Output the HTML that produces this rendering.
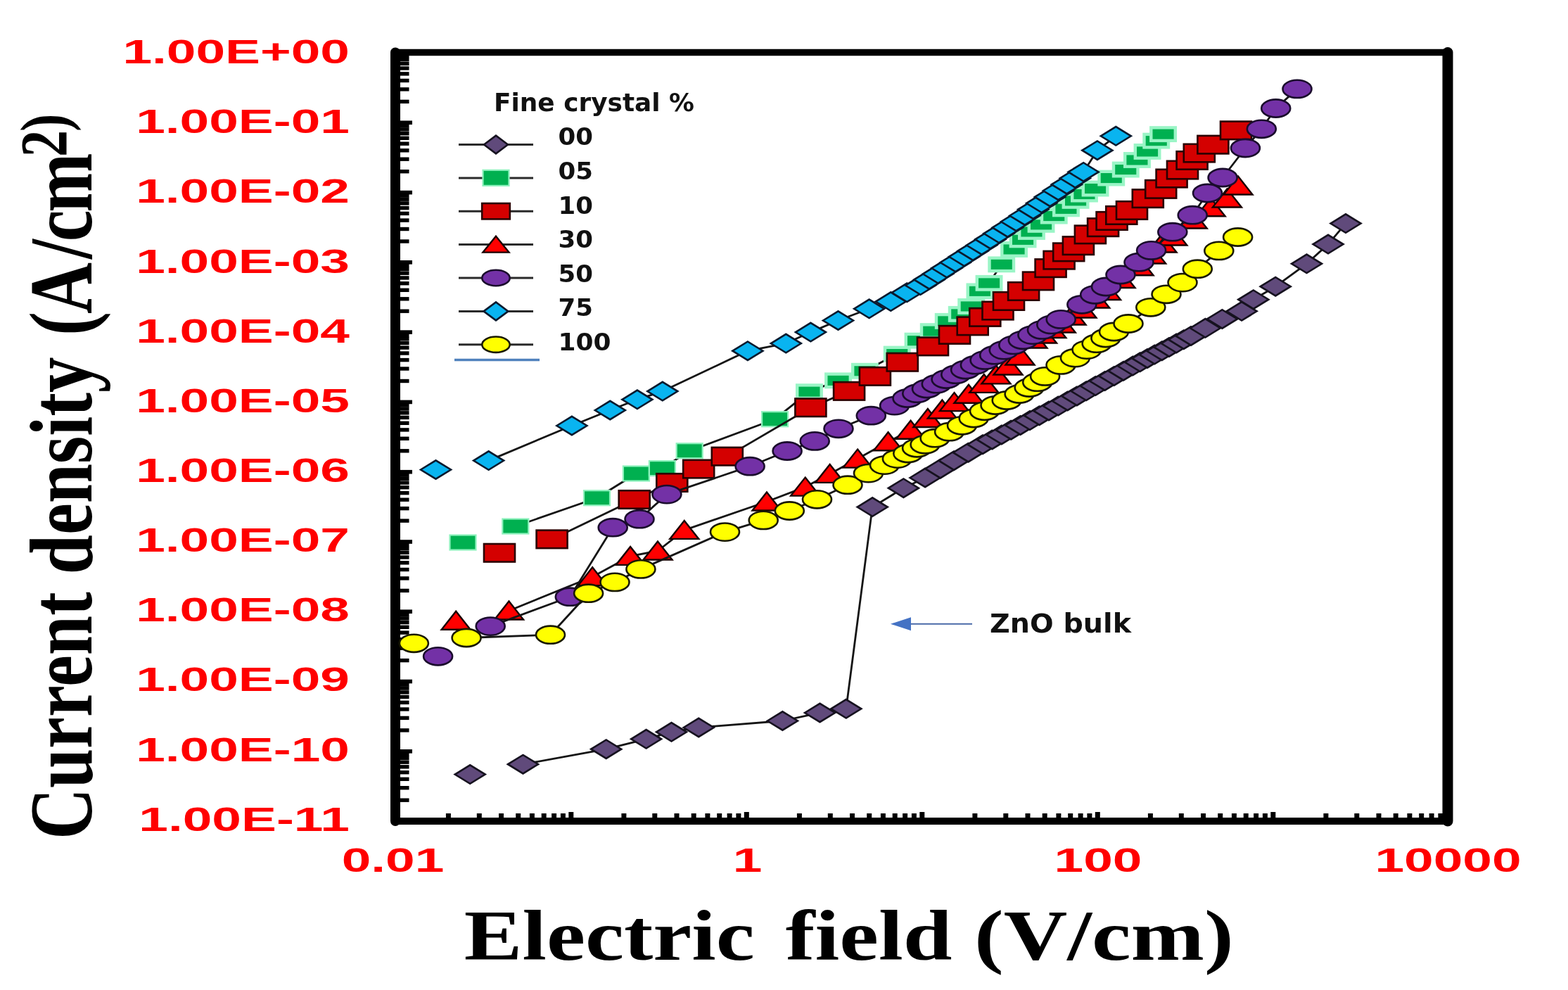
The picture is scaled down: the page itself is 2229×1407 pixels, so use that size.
<!DOCTYPE html>
<html><head><meta charset="utf-8"><title>Current density vs Electric field</title>
<style>html,body{margin:0;padding:0;background:#fff;overflow:hidden}svg{display:block}</style>
</head><body>
<svg width="2229" height="1407" viewBox="0 0 2229 1407">
<style>
.rl{font-family:"Liberation Sans",Arial,sans-serif;font-weight:bold;font-size:48px;fill:#ff0000}
.ttl{font-family:"Liberation Serif","Times New Roman",serif;font-weight:bold;font-size:101px;fill:#000}
.ttl2{font-family:"Liberation Serif","Times New Roman",serif;font-weight:bold;font-size:101px;fill:#000}
.lg{font-family:"DejaVu Sans","Liberation Sans",sans-serif;font-weight:bold;fill:#111}
</style>
<rect width="2229" height="1407" fill="#fff"/>
<g fill="#000"><rect x="562" y="171.5" width="24" height="5.6"/><rect x="562" y="141.7" width="19.5" height="5.4"/><rect x="562" y="124.2" width="19.5" height="5.4"/><rect x="562" y="111.8" width="19.5" height="5.4"/><rect x="562" y="102.2" width="19.5" height="5.4"/><rect x="562" y="94.3" width="19.5" height="5.4"/><rect x="562" y="87.7" width="19.5" height="5.4"/><rect x="562" y="81.9" width="19.5" height="5.4"/><rect x="562" y="76.8" width="19.5" height="5.4"/><rect x="562" y="270.8" width="24" height="5.6"/><rect x="562" y="241.0" width="19.5" height="5.4"/><rect x="562" y="223.5" width="19.5" height="5.4"/><rect x="562" y="211.1" width="19.5" height="5.4"/><rect x="562" y="201.5" width="19.5" height="5.4"/><rect x="562" y="193.6" width="19.5" height="5.4"/><rect x="562" y="187.0" width="19.5" height="5.4"/><rect x="562" y="181.2" width="19.5" height="5.4"/><rect x="562" y="176.1" width="19.5" height="5.4"/><rect x="562" y="370.0" width="24" height="5.6"/><rect x="562" y="340.3" width="19.5" height="5.4"/><rect x="562" y="322.8" width="19.5" height="5.4"/><rect x="562" y="310.4" width="19.5" height="5.4"/><rect x="562" y="300.7" width="19.5" height="5.4"/><rect x="562" y="292.9" width="19.5" height="5.4"/><rect x="562" y="286.2" width="19.5" height="5.4"/><rect x="562" y="280.5" width="19.5" height="5.4"/><rect x="562" y="275.4" width="19.5" height="5.4"/><rect x="562" y="469.3" width="24" height="5.6"/><rect x="562" y="439.5" width="19.5" height="5.4"/><rect x="562" y="422.1" width="19.5" height="5.4"/><rect x="562" y="409.6" width="19.5" height="5.4"/><rect x="562" y="400.0" width="19.5" height="5.4"/><rect x="562" y="392.2" width="19.5" height="5.4"/><rect x="562" y="385.5" width="19.5" height="5.4"/><rect x="562" y="379.8" width="19.5" height="5.4"/><rect x="562" y="374.7" width="19.5" height="5.4"/><rect x="562" y="568.6" width="24" height="5.6"/><rect x="562" y="538.8" width="19.5" height="5.4"/><rect x="562" y="521.3" width="19.5" height="5.4"/><rect x="562" y="508.9" width="19.5" height="5.4"/><rect x="562" y="499.3" width="19.5" height="5.4"/><rect x="562" y="491.4" width="19.5" height="5.4"/><rect x="562" y="484.8" width="19.5" height="5.4"/><rect x="562" y="479.0" width="19.5" height="5.4"/><rect x="562" y="474.0" width="19.5" height="5.4"/><rect x="562" y="667.9" width="24" height="5.6"/><rect x="562" y="638.1" width="19.5" height="5.4"/><rect x="562" y="620.6" width="19.5" height="5.4"/><rect x="562" y="608.2" width="19.5" height="5.4"/><rect x="562" y="598.6" width="19.5" height="5.4"/><rect x="562" y="590.7" width="19.5" height="5.4"/><rect x="562" y="584.1" width="19.5" height="5.4"/><rect x="562" y="578.3" width="19.5" height="5.4"/><rect x="562" y="573.2" width="19.5" height="5.4"/><rect x="562" y="767.2" width="24" height="5.6"/><rect x="562" y="737.4" width="19.5" height="5.4"/><rect x="562" y="719.9" width="19.5" height="5.4"/><rect x="562" y="707.5" width="19.5" height="5.4"/><rect x="562" y="697.9" width="19.5" height="5.4"/><rect x="562" y="690.0" width="19.5" height="5.4"/><rect x="562" y="683.4" width="19.5" height="5.4"/><rect x="562" y="677.6" width="19.5" height="5.4"/><rect x="562" y="672.5" width="19.5" height="5.4"/><rect x="562" y="866.4" width="24" height="5.6"/><rect x="562" y="836.7" width="19.5" height="5.4"/><rect x="562" y="819.2" width="19.5" height="5.4"/><rect x="562" y="806.8" width="19.5" height="5.4"/><rect x="562" y="797.1" width="19.5" height="5.4"/><rect x="562" y="789.3" width="19.5" height="5.4"/><rect x="562" y="782.6" width="19.5" height="5.4"/><rect x="562" y="776.9" width="19.5" height="5.4"/><rect x="562" y="771.8" width="19.5" height="5.4"/><rect x="562" y="965.7" width="24" height="5.6"/><rect x="562" y="935.9" width="19.5" height="5.4"/><rect x="562" y="918.5" width="19.5" height="5.4"/><rect x="562" y="906.0" width="19.5" height="5.4"/><rect x="562" y="896.4" width="19.5" height="5.4"/><rect x="562" y="888.6" width="19.5" height="5.4"/><rect x="562" y="881.9" width="19.5" height="5.4"/><rect x="562" y="876.2" width="19.5" height="5.4"/><rect x="562" y="871.1" width="19.5" height="5.4"/><rect x="562" y="1065.0" width="24" height="5.6"/><rect x="562" y="1035.2" width="19.5" height="5.4"/><rect x="562" y="1017.7" width="19.5" height="5.4"/><rect x="562" y="1005.3" width="19.5" height="5.4"/><rect x="562" y="995.7" width="19.5" height="5.4"/><rect x="562" y="987.8" width="19.5" height="5.4"/><rect x="562" y="981.2" width="19.5" height="5.4"/><rect x="562" y="975.4" width="19.5" height="5.4"/><rect x="562" y="970.4" width="19.5" height="5.4"/><rect x="562" y="1164.3" width="24" height="5.6"/><rect x="562" y="1134.5" width="19.5" height="5.4"/><rect x="562" y="1117.0" width="19.5" height="5.4"/><rect x="562" y="1104.6" width="19.5" height="5.4"/><rect x="562" y="1095.0" width="19.5" height="5.4"/><rect x="562" y="1087.1" width="19.5" height="5.4"/><rect x="562" y="1080.5" width="19.5" height="5.4"/><rect x="562" y="1074.7" width="19.5" height="5.4"/><rect x="562" y="1069.6" width="19.5" height="5.4"/><rect x="633.9" y="1156" width="7" height="11"/><rect x="677.8" y="1156" width="7" height="11"/><rect x="709.0" y="1156" width="7" height="11"/><rect x="733.2" y="1156" width="7" height="11"/><rect x="752.9" y="1156" width="7" height="11"/><rect x="769.7" y="1156" width="7" height="11"/><rect x="784.1" y="1156" width="7" height="11"/><rect x="796.9" y="1156" width="7" height="11"/><rect x="808.3" y="1154" width="7" height="13"/><rect x="883.4" y="1156" width="7" height="11"/><rect x="927.3" y="1156" width="7" height="11"/><rect x="958.5" y="1156" width="7" height="11"/><rect x="982.7" y="1156" width="7" height="11"/><rect x="1002.4" y="1156" width="7" height="11"/><rect x="1019.2" y="1156" width="7" height="11"/><rect x="1033.6" y="1156" width="7" height="11"/><rect x="1046.4" y="1156" width="7" height="11"/><rect x="1057.8" y="1154" width="7" height="13"/><rect x="1132.9" y="1156" width="7" height="11"/><rect x="1176.8" y="1156" width="7" height="11"/><rect x="1208.0" y="1156" width="7" height="11"/><rect x="1232.2" y="1156" width="7" height="11"/><rect x="1251.9" y="1156" width="7" height="11"/><rect x="1268.7" y="1156" width="7" height="11"/><rect x="1283.1" y="1156" width="7" height="11"/><rect x="1295.9" y="1156" width="7" height="11"/><rect x="1307.3" y="1154" width="7" height="13"/><rect x="1382.4" y="1156" width="7" height="11"/><rect x="1426.3" y="1156" width="7" height="11"/><rect x="1457.5" y="1156" width="7" height="11"/><rect x="1481.7" y="1156" width="7" height="11"/><rect x="1501.4" y="1156" width="7" height="11"/><rect x="1518.2" y="1156" width="7" height="11"/><rect x="1532.6" y="1156" width="7" height="11"/><rect x="1545.4" y="1156" width="7" height="11"/><rect x="1556.8" y="1154" width="7" height="13"/><rect x="1631.9" y="1156" width="7" height="11"/><rect x="1675.8" y="1156" width="7" height="11"/><rect x="1707.0" y="1156" width="7" height="11"/><rect x="1731.2" y="1156" width="7" height="11"/><rect x="1750.9" y="1156" width="7" height="11"/><rect x="1767.7" y="1156" width="7" height="11"/><rect x="1782.1" y="1156" width="7" height="11"/><rect x="1794.9" y="1156" width="7" height="11"/><rect x="1806.3" y="1154" width="7" height="13"/><rect x="1881.4" y="1156" width="7" height="11"/><rect x="1925.3" y="1156" width="7" height="11"/><rect x="1956.5" y="1156" width="7" height="11"/><rect x="1980.7" y="1156" width="7" height="11"/><rect x="2000.4" y="1156" width="7" height="11"/><rect x="2017.2" y="1156" width="7" height="11"/><rect x="2031.6" y="1156" width="7" height="11"/><rect x="2044.4" y="1156" width="7" height="11"/></g><rect x="562" y="74.5" width="1496" height="1092.5" fill="none" stroke="#000" stroke-width="0" /><path d="M562,74.5 H2058" stroke="#000" stroke-width="9.5" stroke-linecap="round" fill="none"/><path d="M562,1167 H2058" stroke="#000" stroke-width="10" stroke-linecap="round" fill="none"/><path d="M562,74.5 V1167" stroke="#000" stroke-width="14" stroke-linecap="round" fill="none"/><path d="M2058,74.5 V1167" stroke="#000" stroke-width="15" stroke-linecap="round" fill="none"/><text transform="translate(497,90.0) scale(1.56,1)" text-anchor="end" class="rl">1.00E+00</text><text transform="translate(497,189.2) scale(1.56,1)" text-anchor="end" class="rl">1.00E-01</text><text transform="translate(497,288.3) scale(1.56,1)" text-anchor="end" class="rl">1.00E-02</text><text transform="translate(497,387.5) scale(1.56,1)" text-anchor="end" class="rl">1.00E-03</text><text transform="translate(497,486.6) scale(1.56,1)" text-anchor="end" class="rl">1.00E-04</text><text transform="translate(497,585.8) scale(1.56,1)" text-anchor="end" class="rl">1.00E-05</text><text transform="translate(497,684.9) scale(1.56,1)" text-anchor="end" class="rl">1.00E-06</text><text transform="translate(497,784.1) scale(1.56,1)" text-anchor="end" class="rl">1.00E-07</text><text transform="translate(497,883.2) scale(1.56,1)" text-anchor="end" class="rl">1.00E-08</text><text transform="translate(497,982.4) scale(1.56,1)" text-anchor="end" class="rl">1.00E-09</text><text transform="translate(497,1081.5) scale(1.56,1)" text-anchor="end" class="rl">1.00E-10</text><text transform="translate(497,1180.7) scale(1.56,1)" text-anchor="end" class="rl">1.00E-11</text><text transform="translate(558.5,1238.5) scale(1.56,1)" text-anchor="middle" class="rl">0.01</text><text transform="translate(1062.5,1238.5) scale(1.56,1)" text-anchor="middle" class="rl">1</text><text transform="translate(1561.0,1238.5) scale(1.56,1)" text-anchor="middle" class="rl">100</text><text transform="translate(2058.5,1238.5) scale(1.56,1)" text-anchor="middle" class="rl">10000</text><text x="659.8" y="1364" class="ttl" textLength="413" lengthAdjust="spacingAndGlyphs">Electric</text><text x="1116.8" y="1364" class="ttl" textLength="637" lengthAdjust="spacingAndGlyphs">field (V/cm)</text><text transform="translate(130,1193) scale(1.25,1) rotate(-90)" class="ttl2">Current density <tspan dx="5.7">(</tspan><tspan dx="-2.9">A</tspan><tspan dx="5">/</tspan><tspan dx="-3.3">c</tspan><tspan dx="-3.4">m</tspan><tspan dy="-28" dx="-5.3" font-size="76">2</tspan><tspan font-size="76" dx="-2.2">)</tspan></text><path d="M1292,886.8 H1382" stroke="#4a6aa8" stroke-width="2" fill="none"/><polygon points="1266,886.8 1295,877.3 1295,896.3" fill="#4472c4"/><text x="1407" y="899.3" class="lg" font-size="37" textLength="201" lengthAdjust="spacingAndGlyphs">ZnO bulk</text><path d="M743.5,1086.2 L861.7,1064.7 L918.6,1050.3 L954.5,1040.3 L993.2,1034.0 L1112.4,1024.5 L1165.5,1013.0 L1202.8,1007.3 L1240.2,720.6 L1284.4,693.7 L1315.1,679.0 L1336.8,666.2 L1356.0,654.7 L1376.5,643.2 L1397.0,631.7 L1410.4,624.9 L1423.8,618.0 L1437.2,611.2 L1450.6,604.4 L1464.0,597.6 L1477.5,590.7 L1490.9,583.9 L1504.3,577.1 L1517.6,570.0 L1530.8,562.9 L1544.1,555.8 L1557.3,548.6 L1570.6,541.5 L1583.8,534.4 L1597.1,527.2 L1610.3,520.1 L1620.6,514.8 L1631.0,509.4 L1641.3,504.1 L1651.7,498.8 L1662.0,493.4 L1672.3,488.1 L1682.7,482.7 L1693.0,477.4 L1713.4,466.3 L1737.4,453.4 L1765.1,442.3 L1781.8,425.7 L1813.2,407.2 L1857.5,374.8 L1888.0,347.1 L1913.0,317.6" fill="none" stroke="#151515" stroke-width="2.8" stroke-linejoin="round"/><g><polygon points="646.7,1100.6 668.2,1087.4 689.7,1100.6 668.2,1113.8" fill="#604a7b" stroke="#16121f" stroke-width="2.6" stroke-linejoin="miter"/><polygon points="722.0,1086.2 743.5,1073.0 765.0,1086.2 743.5,1099.4" fill="#604a7b" stroke="#16121f" stroke-width="2.6" stroke-linejoin="miter"/><polygon points="840.2,1064.7 861.7,1051.5 883.2,1064.7 861.7,1077.9" fill="#604a7b" stroke="#16121f" stroke-width="2.6" stroke-linejoin="miter"/><polygon points="897.1,1050.3 918.6,1037.1 940.1,1050.3 918.6,1063.5" fill="#604a7b" stroke="#16121f" stroke-width="2.6" stroke-linejoin="miter"/><polygon points="933.0,1040.3 954.5,1027.1 976.0,1040.3 954.5,1053.5" fill="#604a7b" stroke="#16121f" stroke-width="2.6" stroke-linejoin="miter"/><polygon points="971.7,1034.0 993.2,1020.8 1014.7,1034.0 993.2,1047.2" fill="#604a7b" stroke="#16121f" stroke-width="2.6" stroke-linejoin="miter"/><polygon points="1090.9,1024.5 1112.4,1011.3 1133.9,1024.5 1112.4,1037.7" fill="#604a7b" stroke="#16121f" stroke-width="2.6" stroke-linejoin="miter"/><polygon points="1144.0,1013.0 1165.5,999.8 1187.0,1013.0 1165.5,1026.2" fill="#604a7b" stroke="#16121f" stroke-width="2.6" stroke-linejoin="miter"/><polygon points="1181.3,1007.3 1202.8,994.1 1224.3,1007.3 1202.8,1020.5" fill="#604a7b" stroke="#16121f" stroke-width="2.6" stroke-linejoin="miter"/><polygon points="1218.7,720.6 1240.2,707.4 1261.7,720.6 1240.2,733.8" fill="#604a7b" stroke="#16121f" stroke-width="2.6" stroke-linejoin="miter"/><polygon points="1262.9,693.7 1284.4,680.5 1305.9,693.7 1284.4,706.9" fill="#604a7b" stroke="#16121f" stroke-width="2.6" stroke-linejoin="miter"/><polygon points="1293.6,679.0 1315.1,665.8 1336.6,679.0 1315.1,692.2" fill="#604a7b" stroke="#16121f" stroke-width="2.6" stroke-linejoin="miter"/><polygon points="1315.3,666.2 1336.8,653.0 1358.3,666.2 1336.8,679.4" fill="#604a7b" stroke="#16121f" stroke-width="2.6" stroke-linejoin="miter"/><polygon points="1334.5,654.7 1356.0,641.5 1377.5,654.7 1356.0,667.9" fill="#604a7b" stroke="#16121f" stroke-width="2.6" stroke-linejoin="miter"/><polygon points="1355.0,643.2 1376.5,630.0 1398.0,643.2 1376.5,656.4" fill="#604a7b" stroke="#16121f" stroke-width="2.6" stroke-linejoin="miter"/><polygon points="1375.5,631.7 1397.0,618.5 1418.5,631.7 1397.0,644.9" fill="#604a7b" stroke="#16121f" stroke-width="2.6" stroke-linejoin="miter"/><polygon points="1388.9,624.9 1410.4,611.7 1431.9,624.9 1410.4,638.1" fill="#604a7b" stroke="#16121f" stroke-width="2.6" stroke-linejoin="miter"/><polygon points="1402.3,618.0 1423.8,604.8 1445.3,618.0 1423.8,631.2" fill="#604a7b" stroke="#16121f" stroke-width="2.6" stroke-linejoin="miter"/><polygon points="1415.7,611.2 1437.2,598.0 1458.7,611.2 1437.2,624.4" fill="#604a7b" stroke="#16121f" stroke-width="2.6" stroke-linejoin="miter"/><polygon points="1429.1,604.4 1450.6,591.2 1472.1,604.4 1450.6,617.6" fill="#604a7b" stroke="#16121f" stroke-width="2.6" stroke-linejoin="miter"/><polygon points="1442.5,597.6 1464.0,584.4 1485.5,597.6 1464.0,610.8" fill="#604a7b" stroke="#16121f" stroke-width="2.6" stroke-linejoin="miter"/><polygon points="1456.0,590.7 1477.5,577.5 1499.0,590.7 1477.5,603.9" fill="#604a7b" stroke="#16121f" stroke-width="2.6" stroke-linejoin="miter"/><polygon points="1469.4,583.9 1490.9,570.7 1512.4,583.9 1490.9,597.1" fill="#604a7b" stroke="#16121f" stroke-width="2.6" stroke-linejoin="miter"/><polygon points="1482.8,577.1 1504.3,563.9 1525.8,577.1 1504.3,590.3" fill="#604a7b" stroke="#16121f" stroke-width="2.6" stroke-linejoin="miter"/><polygon points="1496.1,570.0 1517.6,556.8 1539.1,570.0 1517.6,583.2" fill="#604a7b" stroke="#16121f" stroke-width="2.6" stroke-linejoin="miter"/><polygon points="1509.3,562.9 1530.8,549.7 1552.3,562.9 1530.8,576.1" fill="#604a7b" stroke="#16121f" stroke-width="2.6" stroke-linejoin="miter"/><polygon points="1522.6,555.8 1544.1,542.6 1565.6,555.8 1544.1,569.0" fill="#604a7b" stroke="#16121f" stroke-width="2.6" stroke-linejoin="miter"/><polygon points="1535.8,548.6 1557.3,535.4 1578.8,548.6 1557.3,561.8" fill="#604a7b" stroke="#16121f" stroke-width="2.6" stroke-linejoin="miter"/><polygon points="1549.1,541.5 1570.6,528.3 1592.1,541.5 1570.6,554.7" fill="#604a7b" stroke="#16121f" stroke-width="2.6" stroke-linejoin="miter"/><polygon points="1562.3,534.4 1583.8,521.2 1605.3,534.4 1583.8,547.6" fill="#604a7b" stroke="#16121f" stroke-width="2.6" stroke-linejoin="miter"/><polygon points="1575.6,527.2 1597.1,514.0 1618.6,527.2 1597.1,540.4" fill="#604a7b" stroke="#16121f" stroke-width="2.6" stroke-linejoin="miter"/><polygon points="1588.8,520.1 1610.3,506.9 1631.8,520.1 1610.3,533.3" fill="#604a7b" stroke="#16121f" stroke-width="2.6" stroke-linejoin="miter"/><polygon points="1599.1,514.8 1620.6,501.6 1642.1,514.8 1620.6,528.0" fill="#604a7b" stroke="#16121f" stroke-width="2.6" stroke-linejoin="miter"/><polygon points="1609.5,509.4 1631.0,496.2 1652.5,509.4 1631.0,522.6" fill="#604a7b" stroke="#16121f" stroke-width="2.6" stroke-linejoin="miter"/><polygon points="1619.8,504.1 1641.3,490.9 1662.8,504.1 1641.3,517.3" fill="#604a7b" stroke="#16121f" stroke-width="2.6" stroke-linejoin="miter"/><polygon points="1630.2,498.8 1651.7,485.6 1673.2,498.8 1651.7,511.9" fill="#604a7b" stroke="#16121f" stroke-width="2.6" stroke-linejoin="miter"/><polygon points="1640.5,493.4 1662.0,480.2 1683.5,493.4 1662.0,506.6" fill="#604a7b" stroke="#16121f" stroke-width="2.6" stroke-linejoin="miter"/><polygon points="1650.8,488.1 1672.3,474.9 1693.8,488.1 1672.3,501.3" fill="#604a7b" stroke="#16121f" stroke-width="2.6" stroke-linejoin="miter"/><polygon points="1661.2,482.7 1682.7,469.5 1704.2,482.7 1682.7,495.9" fill="#604a7b" stroke="#16121f" stroke-width="2.6" stroke-linejoin="miter"/><polygon points="1671.5,477.4 1693.0,464.2 1714.5,477.4 1693.0,490.6" fill="#604a7b" stroke="#16121f" stroke-width="2.6" stroke-linejoin="miter"/><polygon points="1691.9,466.3 1713.4,453.1 1734.9,466.3 1713.4,479.5" fill="#604a7b" stroke="#16121f" stroke-width="2.6" stroke-linejoin="miter"/><polygon points="1715.9,453.4 1737.4,440.2 1758.9,453.4 1737.4,466.6" fill="#604a7b" stroke="#16121f" stroke-width="2.6" stroke-linejoin="miter"/><polygon points="1743.6,442.3 1765.1,429.1 1786.6,442.3 1765.1,455.5" fill="#604a7b" stroke="#16121f" stroke-width="2.6" stroke-linejoin="miter"/><polygon points="1760.3,425.7 1781.8,412.5 1803.3,425.7 1781.8,438.9" fill="#604a7b" stroke="#16121f" stroke-width="2.6" stroke-linejoin="miter"/><polygon points="1791.7,407.2 1813.2,394.0 1834.7,407.2 1813.2,420.4" fill="#604a7b" stroke="#16121f" stroke-width="2.6" stroke-linejoin="miter"/><polygon points="1836.0,374.8 1857.5,361.6 1879.0,374.8 1857.5,388.0" fill="#604a7b" stroke="#16121f" stroke-width="2.6" stroke-linejoin="miter"/><polygon points="1866.5,347.1 1888.0,333.9 1909.5,347.1 1888.0,360.3" fill="#604a7b" stroke="#16121f" stroke-width="2.6" stroke-linejoin="miter"/><polygon points="1891.5,317.6 1913.0,304.4 1934.5,317.6 1913.0,330.8" fill="#604a7b" stroke="#16121f" stroke-width="2.6" stroke-linejoin="miter"/></g><path d="M732.8,748.0 L848.5,707.7 L904.4,673.0 L941.4,665.6 L980.2,640.7 L1101.6,595.7 L1150.5,556.6 L1191.6,540.9 L1229.4,527.3 L1275.3,503.0 L1305.1,484.1 L1327.3,470.6 L1348.3,456.4 L1367.2,446.3 L1380.7,435.5 L1392.9,413.9 L1406.0,402.3 L1423.8,375.8 L1441.6,354.5 L1454.0,340.9 L1466.5,329.5 L1480.1,319.3 L1498.3,307.0 L1515.4,296.8 L1529.0,285.4 L1541.5,276.0 L1557.0,268.0 L1579.7,253.1 L1600.2,241.1 L1616.4,227.5 L1631.0,215.5 L1643.7,200.2 L1653.6,190.7" fill="none" stroke="#151515" stroke-width="2.8" stroke-linejoin="round"/><g><rect x="639.5" y="760.5" width="37.0" height="21.0" fill="#00b050" stroke="#8ef2bd" stroke-width="2.2"/><rect x="714.3" y="737.5" width="37.0" height="21.0" fill="#00b050" stroke="#8ef2bd" stroke-width="2.2"/><rect x="830.0" y="697.2" width="37.0" height="21.0" fill="#00b050" stroke="#8ef2bd" stroke-width="2.2"/><rect x="885.9" y="662.5" width="37.0" height="21.0" fill="#00b050" stroke="#8ef2bd" stroke-width="2.2"/><rect x="922.9" y="655.1" width="37.0" height="21.0" fill="#00b050" stroke="#8ef2bd" stroke-width="2.2"/><rect x="961.7" y="630.2" width="37.0" height="21.0" fill="#00b050" stroke="#8ef2bd" stroke-width="2.2"/><rect x="1083.1" y="585.2" width="37.0" height="21.0" fill="#00b050" stroke="#8ef2bd" stroke-width="2.2"/><rect x="1133.2" y="547.4" width="34.5" height="18.5" fill="#00b050" stroke="#9af5c6" stroke-width="4.4"/><rect x="1174.3" y="531.6" width="34.5" height="18.5" fill="#00b050" stroke="#9af5c6" stroke-width="4.4"/><rect x="1212.2" y="518.0" width="34.5" height="18.5" fill="#00b050" stroke="#9af5c6" stroke-width="4.4"/><rect x="1258.0" y="493.8" width="34.5" height="18.5" fill="#00b050" stroke="#9af5c6" stroke-width="4.4"/><rect x="1287.8" y="474.9" width="34.5" height="18.5" fill="#00b050" stroke="#9af5c6" stroke-width="4.4"/><rect x="1310.0" y="461.4" width="34.5" height="18.5" fill="#00b050" stroke="#9af5c6" stroke-width="4.4"/><rect x="1331.0" y="447.1" width="34.5" height="18.5" fill="#00b050" stroke="#9af5c6" stroke-width="4.4"/><rect x="1350.0" y="437.1" width="34.5" height="18.5" fill="#00b050" stroke="#9af5c6" stroke-width="4.4"/><rect x="1363.5" y="426.2" width="34.5" height="18.5" fill="#00b050" stroke="#9af5c6" stroke-width="4.4"/><rect x="1375.7" y="404.6" width="34.5" height="18.5" fill="#00b050" stroke="#9af5c6" stroke-width="4.4"/><rect x="1388.8" y="393.1" width="34.5" height="18.5" fill="#00b050" stroke="#9af5c6" stroke-width="4.4"/><rect x="1406.5" y="366.6" width="34.5" height="18.5" fill="#00b050" stroke="#9af5c6" stroke-width="4.4"/><rect x="1424.3" y="345.2" width="34.5" height="18.5" fill="#00b050" stroke="#9af5c6" stroke-width="4.4"/><rect x="1436.8" y="331.6" width="34.5" height="18.5" fill="#00b050" stroke="#9af5c6" stroke-width="4.4"/><rect x="1449.2" y="320.2" width="34.5" height="18.5" fill="#00b050" stroke="#9af5c6" stroke-width="4.4"/><rect x="1462.8" y="310.1" width="34.5" height="18.5" fill="#00b050" stroke="#9af5c6" stroke-width="4.4"/><rect x="1481.0" y="297.8" width="34.5" height="18.5" fill="#00b050" stroke="#9af5c6" stroke-width="4.4"/><rect x="1498.2" y="287.6" width="34.5" height="18.5" fill="#00b050" stroke="#9af5c6" stroke-width="4.4"/><rect x="1511.8" y="276.1" width="34.5" height="18.5" fill="#00b050" stroke="#9af5c6" stroke-width="4.4"/><rect x="1524.2" y="266.8" width="34.5" height="18.5" fill="#00b050" stroke="#9af5c6" stroke-width="4.4"/><rect x="1539.8" y="258.8" width="34.5" height="18.5" fill="#00b050" stroke="#9af5c6" stroke-width="4.4"/><rect x="1562.5" y="243.8" width="34.5" height="18.5" fill="#00b050" stroke="#9af5c6" stroke-width="4.4"/><rect x="1583.0" y="231.8" width="34.5" height="18.5" fill="#00b050" stroke="#9af5c6" stroke-width="4.4"/><rect x="1599.2" y="218.2" width="34.5" height="18.5" fill="#00b050" stroke="#9af5c6" stroke-width="4.4"/><rect x="1613.8" y="206.2" width="34.5" height="18.5" fill="#00b050" stroke="#9af5c6" stroke-width="4.4"/><rect x="1626.5" y="190.9" width="34.5" height="18.5" fill="#00b050" stroke="#9af5c6" stroke-width="4.4"/><rect x="1636.3" y="181.4" width="34.5" height="18.5" fill="#00b050" stroke="#9af5c6" stroke-width="4.4"/></g><path d="M784.6,766.4 L901.7,710.0 L955.3,686.0 L993.2,666.5 L1033.8,648.6 L1152.4,579.3 L1207.1,555.9 L1243.9,534.9 L1282.8,514.7 L1326.0,492.4 L1357.0,475.9 L1382.7,463.3 L1400.3,450.9 L1418.5,441.5 L1434.0,428.0 L1455.1,414.0 L1476.0,399.3 L1493.6,381.1 L1505.6,369.7 L1519.2,358.3 L1532.9,349.2 L1549.9,333.3 L1568.1,323.1 L1580.6,314.0 L1594.3,306.0 L1609.0,299.0 L1631.8,282.2 L1650.2,268.8 L1665.6,253.5 L1681.0,241.5 L1694.6,227.9 L1704.8,217.6 L1724.4,205.7 L1757.0,185.3" fill="none" stroke="#151515" stroke-width="2.8" stroke-linejoin="round"/><g><rect x="688.0" y="773.0" width="44.0" height="25.5" fill="#d40000" stroke="#2a0000" stroke-width="2.6"/><rect x="762.6" y="753.6" width="44.0" height="25.5" fill="#d40000" stroke="#2a0000" stroke-width="2.6"/><rect x="879.7" y="697.2" width="44.0" height="25.5" fill="#d40000" stroke="#2a0000" stroke-width="2.6"/><rect x="933.3" y="673.2" width="44.0" height="25.5" fill="#d40000" stroke="#2a0000" stroke-width="2.6"/><rect x="971.2" y="653.8" width="44.0" height="25.5" fill="#d40000" stroke="#2a0000" stroke-width="2.6"/><rect x="1011.8" y="635.9" width="44.0" height="25.5" fill="#d40000" stroke="#2a0000" stroke-width="2.6"/><rect x="1130.4" y="566.5" width="44.0" height="25.5" fill="#d40000" stroke="#2a0000" stroke-width="2.6"/><rect x="1185.1" y="543.1" width="44.0" height="25.5" fill="#d40000" stroke="#2a0000" stroke-width="2.6"/><rect x="1221.9" y="522.1" width="44.0" height="25.5" fill="#d40000" stroke="#2a0000" stroke-width="2.6"/><rect x="1260.8" y="502.0" width="44.0" height="25.5" fill="#d40000" stroke="#2a0000" stroke-width="2.6"/><rect x="1304.0" y="479.6" width="44.0" height="25.5" fill="#d40000" stroke="#2a0000" stroke-width="2.6"/><rect x="1335.0" y="463.1" width="44.0" height="25.5" fill="#d40000" stroke="#2a0000" stroke-width="2.6"/><rect x="1360.7" y="450.6" width="44.0" height="25.5" fill="#d40000" stroke="#2a0000" stroke-width="2.6"/><rect x="1378.3" y="438.1" width="44.0" height="25.5" fill="#d40000" stroke="#2a0000" stroke-width="2.6"/><rect x="1396.5" y="428.8" width="44.0" height="25.5" fill="#d40000" stroke="#2a0000" stroke-width="2.6"/><rect x="1412.0" y="415.2" width="44.0" height="25.5" fill="#d40000" stroke="#2a0000" stroke-width="2.6"/><rect x="1433.1" y="401.2" width="44.0" height="25.5" fill="#d40000" stroke="#2a0000" stroke-width="2.6"/><rect x="1454.0" y="386.6" width="44.0" height="25.5" fill="#d40000" stroke="#2a0000" stroke-width="2.6"/><rect x="1471.6" y="368.4" width="44.0" height="25.5" fill="#d40000" stroke="#2a0000" stroke-width="2.6"/><rect x="1483.6" y="356.9" width="44.0" height="25.5" fill="#d40000" stroke="#2a0000" stroke-width="2.6"/><rect x="1497.2" y="345.6" width="44.0" height="25.5" fill="#d40000" stroke="#2a0000" stroke-width="2.6"/><rect x="1510.9" y="336.4" width="44.0" height="25.5" fill="#d40000" stroke="#2a0000" stroke-width="2.6"/><rect x="1527.9" y="320.6" width="44.0" height="25.5" fill="#d40000" stroke="#2a0000" stroke-width="2.6"/><rect x="1546.1" y="310.4" width="44.0" height="25.5" fill="#d40000" stroke="#2a0000" stroke-width="2.6"/><rect x="1558.6" y="301.2" width="44.0" height="25.5" fill="#d40000" stroke="#2a0000" stroke-width="2.6"/><rect x="1572.3" y="293.2" width="44.0" height="25.5" fill="#d40000" stroke="#2a0000" stroke-width="2.6"/><rect x="1587.0" y="286.2" width="44.0" height="25.5" fill="#d40000" stroke="#2a0000" stroke-width="2.6"/><rect x="1609.8" y="269.4" width="44.0" height="25.5" fill="#d40000" stroke="#2a0000" stroke-width="2.6"/><rect x="1628.2" y="256.1" width="44.0" height="25.5" fill="#d40000" stroke="#2a0000" stroke-width="2.6"/><rect x="1643.6" y="240.8" width="44.0" height="25.5" fill="#d40000" stroke="#2a0000" stroke-width="2.6"/><rect x="1659.0" y="228.8" width="44.0" height="25.5" fill="#d40000" stroke="#2a0000" stroke-width="2.6"/><rect x="1672.6" y="215.2" width="44.0" height="25.5" fill="#d40000" stroke="#2a0000" stroke-width="2.6"/><rect x="1682.8" y="204.8" width="44.0" height="25.5" fill="#d40000" stroke="#2a0000" stroke-width="2.6"/><rect x="1702.4" y="192.9" width="44.0" height="25.5" fill="#d40000" stroke="#2a0000" stroke-width="2.6"/><rect x="1735.0" y="172.6" width="44.0" height="25.5" fill="#d40000" stroke="#2a0000" stroke-width="2.6"/></g><path d="M723.5,868.0 L842.2,819.7 L896.1,790.4 L935.0,783.0 L972.8,753.4 L1090.0,713.0 L1144.7,692.1 L1179.7,673.4 L1219.1,652.1 L1262.6,627.8 L1294.6,611.2 L1318.9,594.5 L1339.4,582.0 L1356.5,571.6 L1377.0,560.2 L1398.8,545.4 L1416.0,532.9 L1433.0,520.0 L1450.0,506.0 L1467.9,482.0 L1481.5,475.0 L1494.8,467.5 L1508.2,460.0 L1523.0,449.0 L1537.9,439.0 L1556.7,425.0 L1572.5,413.5 L1593.0,396.5 L1619.0,378.7 L1636.6,362.0 L1652.0,346.0 L1666.8,336.0 L1695.2,312.0 L1721.1,294.8 L1744.4,282.0 L1760.0,264.0" fill="none" stroke="#151515" stroke-width="2.8" stroke-linejoin="round"/><g><polygon points="648.2,868.8 668.7,894.8 627.7,894.8" fill="#ff0000" stroke="#1a0000" stroke-width="2.4" stroke-linejoin="miter"/><polygon points="723.5,854.5 744.0,880.5 703.0,880.5" fill="#ff0000" stroke="#1a0000" stroke-width="2.4" stroke-linejoin="miter"/><polygon points="842.2,806.2 862.7,832.2 821.7,832.2" fill="#ff0000" stroke="#1a0000" stroke-width="2.4" stroke-linejoin="miter"/><polygon points="896.1,776.9 916.6,802.9 875.6,802.9" fill="#ff0000" stroke="#1a0000" stroke-width="2.4" stroke-linejoin="miter"/><polygon points="935.0,769.5 955.5,795.5 914.5,795.5" fill="#ff0000" stroke="#1a0000" stroke-width="2.4" stroke-linejoin="miter"/><polygon points="972.8,739.9 993.3,765.9 952.3,765.9" fill="#ff0000" stroke="#1a0000" stroke-width="2.4" stroke-linejoin="miter"/><polygon points="1090.0,699.5 1110.5,725.5 1069.5,725.5" fill="#ff0000" stroke="#1a0000" stroke-width="2.4" stroke-linejoin="miter"/><polygon points="1144.7,678.6 1165.2,704.6 1124.2,704.6" fill="#ff0000" stroke="#1a0000" stroke-width="2.4" stroke-linejoin="miter"/><polygon points="1179.7,659.9 1200.2,685.9 1159.2,685.9" fill="#ff0000" stroke="#1a0000" stroke-width="2.4" stroke-linejoin="miter"/><polygon points="1219.1,638.6 1239.6,664.6 1198.6,664.6" fill="#ff0000" stroke="#1a0000" stroke-width="2.4" stroke-linejoin="miter"/><polygon points="1262.6,614.3 1283.1,640.3 1242.1,640.3" fill="#ff0000" stroke="#1a0000" stroke-width="2.4" stroke-linejoin="miter"/><polygon points="1294.6,597.7 1315.1,623.7 1274.1,623.7" fill="#ff0000" stroke="#1a0000" stroke-width="2.4" stroke-linejoin="miter"/><polygon points="1318.9,581.0 1339.4,607.0 1298.4,607.0" fill="#ff0000" stroke="#1a0000" stroke-width="2.4" stroke-linejoin="miter"/><polygon points="1339.4,568.5 1359.9,594.5 1318.9,594.5" fill="#ff0000" stroke="#1a0000" stroke-width="2.4" stroke-linejoin="miter"/><polygon points="1356.5,558.1 1377.0,584.1 1336.0,584.1" fill="#ff0000" stroke="#1a0000" stroke-width="2.4" stroke-linejoin="miter"/><polygon points="1377.0,546.7 1397.5,572.7 1356.5,572.7" fill="#ff0000" stroke="#1a0000" stroke-width="2.4" stroke-linejoin="miter"/><polygon points="1398.8,531.9 1419.3,557.9 1378.3,557.9" fill="#ff0000" stroke="#1a0000" stroke-width="2.4" stroke-linejoin="miter"/><polygon points="1416.0,519.4 1436.5,545.4 1395.5,545.4" fill="#ff0000" stroke="#1a0000" stroke-width="2.4" stroke-linejoin="miter"/><polygon points="1433.0,506.5 1453.5,532.5 1412.5,532.5" fill="#ff0000" stroke="#1a0000" stroke-width="2.4" stroke-linejoin="miter"/><polygon points="1450.0,492.5 1470.5,518.5 1429.5,518.5" fill="#ff0000" stroke="#1a0000" stroke-width="2.4" stroke-linejoin="miter"/><polygon points="1467.9,468.5 1488.4,494.5 1447.4,494.5" fill="#ff0000" stroke="#1a0000" stroke-width="2.4" stroke-linejoin="miter"/><polygon points="1481.5,461.5 1502.0,487.5 1461.0,487.5" fill="#ff0000" stroke="#1a0000" stroke-width="2.4" stroke-linejoin="miter"/><polygon points="1494.8,454.0 1515.3,480.0 1474.3,480.0" fill="#ff0000" stroke="#1a0000" stroke-width="2.4" stroke-linejoin="miter"/><polygon points="1508.2,446.5 1528.7,472.5 1487.7,472.5" fill="#ff0000" stroke="#1a0000" stroke-width="2.4" stroke-linejoin="miter"/><polygon points="1523.0,435.5 1543.5,461.5 1502.5,461.5" fill="#ff0000" stroke="#1a0000" stroke-width="2.4" stroke-linejoin="miter"/><polygon points="1537.9,425.5 1558.4,451.5 1517.4,451.5" fill="#ff0000" stroke="#1a0000" stroke-width="2.4" stroke-linejoin="miter"/><polygon points="1556.7,411.5 1577.2,437.5 1536.2,437.5" fill="#ff0000" stroke="#1a0000" stroke-width="2.4" stroke-linejoin="miter"/><polygon points="1572.5,400.0 1593.0,426.0 1552.0,426.0" fill="#ff0000" stroke="#1a0000" stroke-width="2.4" stroke-linejoin="miter"/><polygon points="1593.0,383.0 1613.5,409.0 1572.5,409.0" fill="#ff0000" stroke="#1a0000" stroke-width="2.4" stroke-linejoin="miter"/><polygon points="1619.0,365.2 1639.5,391.2 1598.5,391.2" fill="#ff0000" stroke="#1a0000" stroke-width="2.4" stroke-linejoin="miter"/><polygon points="1636.6,348.5 1657.1,374.5 1616.1,374.5" fill="#ff0000" stroke="#1a0000" stroke-width="2.4" stroke-linejoin="miter"/><polygon points="1652.0,332.5 1672.5,358.5 1631.5,358.5" fill="#ff0000" stroke="#1a0000" stroke-width="2.4" stroke-linejoin="miter"/><polygon points="1666.8,322.5 1687.3,348.5 1646.3,348.5" fill="#ff0000" stroke="#1a0000" stroke-width="2.4" stroke-linejoin="miter"/><polygon points="1695.2,298.5 1715.7,324.5 1674.7,324.5" fill="#ff0000" stroke="#1a0000" stroke-width="2.4" stroke-linejoin="miter"/><polygon points="1721.1,281.3 1741.6,307.3 1700.6,307.3" fill="#ff0000" stroke="#1a0000" stroke-width="2.4" stroke-linejoin="miter"/><polygon points="1744.4,268.5 1764.9,294.5 1723.9,294.5" fill="#ff0000" stroke="#1a0000" stroke-width="2.4" stroke-linejoin="miter"/><polygon points="1760.0,250.5 1780.5,276.5 1739.5,276.5" fill="#ff0000" stroke="#1a0000" stroke-width="2.4" stroke-linejoin="miter"/></g><path d="M697.2,890.1 L810.3,848.2 L871.2,749.7 L909.0,737.7 L947.9,702.6 L1066.1,662.7 L1119.1,641.0 L1158.2,626.9 L1192.0,609.3 L1238.3,590.7 L1271.6,576.6 L1290.0,566.0 L1303.8,559.2 L1317.5,552.5 L1331.3,545.7 L1345.1,539.0 L1358.8,532.2 L1372.6,525.5 L1386.4,518.7 L1400.1,511.9 L1413.7,504.7 L1427.2,497.6 L1440.8,490.4 L1454.3,483.3 L1467.9,476.1 L1481.5,468.9 L1494.8,461.4 L1508.2,453.9 L1537.9,432.8 L1556.7,418.8 L1572.5,407.5 L1593.0,390.5 L1619.0,372.7 L1636.6,355.9 L1666.8,329.7 L1695.2,305.7 L1716.5,274.5 L1738.1,252.5 L1770.4,210.5 L1793.3,183.3 L1813.7,154.0 L1844.0,126.4" fill="none" stroke="#151515" stroke-width="2.8" stroke-linejoin="round"/><g><ellipse cx="622.6" cy="932.8" rx="20.5" ry="12.6" fill="#7331a6" stroke="#1a0c2c" stroke-width="2.6"/><ellipse cx="697.2" cy="890.1" rx="20.5" ry="12.6" fill="#7331a6" stroke="#1a0c2c" stroke-width="2.6"/><ellipse cx="810.3" cy="848.2" rx="20.5" ry="12.6" fill="#7331a6" stroke="#1a0c2c" stroke-width="2.6"/><ellipse cx="871.2" cy="749.7" rx="20.5" ry="12.6" fill="#7331a6" stroke="#1a0c2c" stroke-width="2.6"/><ellipse cx="909.0" cy="737.7" rx="20.5" ry="12.6" fill="#7331a6" stroke="#1a0c2c" stroke-width="2.6"/><ellipse cx="947.9" cy="702.6" rx="20.5" ry="12.6" fill="#7331a6" stroke="#1a0c2c" stroke-width="2.6"/><ellipse cx="1066.1" cy="662.7" rx="20.5" ry="12.6" fill="#7331a6" stroke="#1a0c2c" stroke-width="2.6"/><ellipse cx="1119.1" cy="641.0" rx="20.5" ry="12.6" fill="#7331a6" stroke="#1a0c2c" stroke-width="2.6"/><ellipse cx="1158.2" cy="626.9" rx="20.5" ry="12.6" fill="#7331a6" stroke="#1a0c2c" stroke-width="2.6"/><ellipse cx="1192.0" cy="609.3" rx="20.5" ry="12.6" fill="#7331a6" stroke="#1a0c2c" stroke-width="2.6"/><ellipse cx="1238.3" cy="590.7" rx="20.5" ry="12.6" fill="#7331a6" stroke="#1a0c2c" stroke-width="2.6"/><ellipse cx="1271.6" cy="576.6" rx="20.5" ry="12.6" fill="#7331a6" stroke="#1a0c2c" stroke-width="2.6"/><ellipse cx="1290.0" cy="566.0" rx="20.5" ry="12.6" fill="#7331a6" stroke="#1a0c2c" stroke-width="2.6"/><ellipse cx="1303.8" cy="559.2" rx="20.5" ry="12.6" fill="#7331a6" stroke="#1a0c2c" stroke-width="2.6"/><ellipse cx="1317.5" cy="552.5" rx="20.5" ry="12.6" fill="#7331a6" stroke="#1a0c2c" stroke-width="2.6"/><ellipse cx="1331.3" cy="545.7" rx="20.5" ry="12.6" fill="#7331a6" stroke="#1a0c2c" stroke-width="2.6"/><ellipse cx="1345.1" cy="539.0" rx="20.5" ry="12.6" fill="#7331a6" stroke="#1a0c2c" stroke-width="2.6"/><ellipse cx="1358.8" cy="532.2" rx="20.5" ry="12.6" fill="#7331a6" stroke="#1a0c2c" stroke-width="2.6"/><ellipse cx="1372.6" cy="525.5" rx="20.5" ry="12.6" fill="#7331a6" stroke="#1a0c2c" stroke-width="2.6"/><ellipse cx="1386.4" cy="518.7" rx="20.5" ry="12.6" fill="#7331a6" stroke="#1a0c2c" stroke-width="2.6"/><ellipse cx="1400.1" cy="511.9" rx="20.5" ry="12.6" fill="#7331a6" stroke="#1a0c2c" stroke-width="2.6"/><ellipse cx="1413.7" cy="504.7" rx="20.5" ry="12.6" fill="#7331a6" stroke="#1a0c2c" stroke-width="2.6"/><ellipse cx="1427.2" cy="497.6" rx="20.5" ry="12.6" fill="#7331a6" stroke="#1a0c2c" stroke-width="2.6"/><ellipse cx="1440.8" cy="490.4" rx="20.5" ry="12.6" fill="#7331a6" stroke="#1a0c2c" stroke-width="2.6"/><ellipse cx="1454.3" cy="483.3" rx="20.5" ry="12.6" fill="#7331a6" stroke="#1a0c2c" stroke-width="2.6"/><ellipse cx="1467.9" cy="476.1" rx="20.5" ry="12.6" fill="#7331a6" stroke="#1a0c2c" stroke-width="2.6"/><ellipse cx="1481.5" cy="468.9" rx="20.5" ry="12.6" fill="#7331a6" stroke="#1a0c2c" stroke-width="2.6"/><ellipse cx="1494.8" cy="461.4" rx="20.5" ry="12.6" fill="#7331a6" stroke="#1a0c2c" stroke-width="2.6"/><ellipse cx="1508.2" cy="453.9" rx="20.5" ry="12.6" fill="#7331a6" stroke="#1a0c2c" stroke-width="2.6"/><ellipse cx="1537.9" cy="432.8" rx="20.5" ry="12.6" fill="#7331a6" stroke="#1a0c2c" stroke-width="2.6"/><ellipse cx="1556.7" cy="418.8" rx="20.5" ry="12.6" fill="#7331a6" stroke="#1a0c2c" stroke-width="2.6"/><ellipse cx="1572.5" cy="407.5" rx="20.5" ry="12.6" fill="#7331a6" stroke="#1a0c2c" stroke-width="2.6"/><ellipse cx="1593.0" cy="390.5" rx="20.5" ry="12.6" fill="#7331a6" stroke="#1a0c2c" stroke-width="2.6"/><ellipse cx="1619.0" cy="372.7" rx="20.5" ry="12.6" fill="#7331a6" stroke="#1a0c2c" stroke-width="2.6"/><ellipse cx="1636.6" cy="355.9" rx="20.5" ry="12.6" fill="#7331a6" stroke="#1a0c2c" stroke-width="2.6"/><ellipse cx="1666.8" cy="329.7" rx="20.5" ry="12.6" fill="#7331a6" stroke="#1a0c2c" stroke-width="2.6"/><ellipse cx="1695.2" cy="305.7" rx="20.5" ry="12.6" fill="#7331a6" stroke="#1a0c2c" stroke-width="2.6"/><ellipse cx="1716.5" cy="274.5" rx="20.5" ry="12.6" fill="#7331a6" stroke="#1a0c2c" stroke-width="2.6"/><ellipse cx="1738.1" cy="252.5" rx="20.5" ry="12.6" fill="#7331a6" stroke="#1a0c2c" stroke-width="2.6"/><ellipse cx="1770.4" cy="210.5" rx="20.5" ry="12.6" fill="#7331a6" stroke="#1a0c2c" stroke-width="2.6"/><ellipse cx="1793.3" cy="183.3" rx="20.5" ry="12.6" fill="#7331a6" stroke="#1a0c2c" stroke-width="2.6"/><ellipse cx="1813.7" cy="154.0" rx="20.5" ry="12.6" fill="#7331a6" stroke="#1a0c2c" stroke-width="2.6"/><ellipse cx="1844.0" cy="126.4" rx="20.5" ry="12.6" fill="#7331a6" stroke="#1a0c2c" stroke-width="2.6"/></g><path d="M694.6,654.6 L812.9,605.0 L867.3,583.0 L905.9,567.8 L941.8,556.1 L1062.9,498.7 L1117.3,488.1 L1152.4,472.1 L1191.5,455.5 L1235.6,438.8 L1266.3,428.6 L1289.3,415.8 L1308.5,405.6 L1320.9,397.4 L1333.4,389.3 L1345.8,381.1 L1358.2,373.0 L1370.6,364.8 L1383.1,356.7 L1395.5,348.5 L1407.8,340.2 L1420.0,331.8 L1432.3,323.4 L1444.5,315.0 L1456.8,306.5 L1468.7,297.7 L1480.6,288.8 L1492.5,279.9 L1504.4,271.0 L1516.4,262.2 L1528.3,253.3 L1540.2,244.4 L1559.9,213.7 L1586.3,193.3" fill="none" stroke="#151515" stroke-width="2.8" stroke-linejoin="round"/><g><polygon points="598.0,667.5 619.5,654.3 641.0,667.5 619.5,680.7" fill="#09b4f0" stroke="#0b1a2e" stroke-width="2.6"/><polygon points="673.1,654.6 694.6,641.4 716.1,654.6 694.6,667.8" fill="#09b4f0" stroke="#0b1a2e" stroke-width="2.6"/><polygon points="791.4,605.0 812.9,591.8 834.4,605.0 812.9,618.2" fill="#09b4f0" stroke="#0b1a2e" stroke-width="2.6"/><polygon points="845.8,583.0 867.3,569.8 888.8,583.0 867.3,596.2" fill="#09b4f0" stroke="#0b1a2e" stroke-width="2.6"/><polygon points="884.4,567.8 905.9,554.6 927.4,567.8 905.9,581.0" fill="#09b4f0" stroke="#0b1a2e" stroke-width="2.6"/><polygon points="920.3,556.1 941.8,542.9 963.3,556.1 941.8,569.3" fill="#09b4f0" stroke="#0b1a2e" stroke-width="2.6"/><polygon points="1041.4,498.7 1062.9,485.5 1084.4,498.7 1062.9,511.9" fill="#09b4f0" stroke="#0b1a2e" stroke-width="2.6"/><polygon points="1095.8,488.1 1117.3,474.9 1138.8,488.1 1117.3,501.3" fill="#09b4f0" stroke="#0b1a2e" stroke-width="2.6"/><polygon points="1130.9,472.1 1152.4,458.9 1173.9,472.1 1152.4,485.3" fill="#09b4f0" stroke="#0b1a2e" stroke-width="2.6"/><polygon points="1170.0,455.5 1191.5,442.3 1213.0,455.5 1191.5,468.7" fill="#09b4f0" stroke="#0b1a2e" stroke-width="2.6"/><polygon points="1214.1,438.8 1235.6,425.6 1257.1,438.8 1235.6,452.0" fill="#09b4f0" stroke="#0b1a2e" stroke-width="2.6"/><polygon points="1244.8,428.6 1266.3,415.4 1287.8,428.6 1266.3,441.8" fill="#09b4f0" stroke="#0b1a2e" stroke-width="2.6"/><polygon points="1267.8,415.8 1289.3,402.6 1310.8,415.8 1289.3,429.0" fill="#09b4f0" stroke="#0b1a2e" stroke-width="2.6"/><polygon points="1287.0,405.6 1308.5,392.4 1330.0,405.6 1308.5,418.8" fill="#09b4f0" stroke="#0b1a2e" stroke-width="2.6"/><polygon points="1299.4,397.4 1320.9,384.2 1342.4,397.4 1320.9,410.6" fill="#09b4f0" stroke="#0b1a2e" stroke-width="2.6"/><polygon points="1311.9,389.3 1333.4,376.1 1354.9,389.3 1333.4,402.5" fill="#09b4f0" stroke="#0b1a2e" stroke-width="2.6"/><polygon points="1324.3,381.1 1345.8,367.9 1367.3,381.1 1345.8,394.3" fill="#09b4f0" stroke="#0b1a2e" stroke-width="2.6"/><polygon points="1336.7,373.0 1358.2,359.8 1379.7,373.0 1358.2,386.2" fill="#09b4f0" stroke="#0b1a2e" stroke-width="2.6"/><polygon points="1349.1,364.8 1370.6,351.6 1392.1,364.8 1370.6,378.0" fill="#09b4f0" stroke="#0b1a2e" stroke-width="2.6"/><polygon points="1361.6,356.7 1383.1,343.5 1404.6,356.7 1383.1,369.9" fill="#09b4f0" stroke="#0b1a2e" stroke-width="2.6"/><polygon points="1374.0,348.5 1395.5,335.3 1417.0,348.5 1395.5,361.7" fill="#09b4f0" stroke="#0b1a2e" stroke-width="2.6"/><polygon points="1386.3,340.2 1407.8,327.0 1429.3,340.2 1407.8,353.4" fill="#09b4f0" stroke="#0b1a2e" stroke-width="2.6"/><polygon points="1398.5,331.8 1420.0,318.6 1441.5,331.8 1420.0,345.0" fill="#09b4f0" stroke="#0b1a2e" stroke-width="2.6"/><polygon points="1410.8,323.4 1432.3,310.2 1453.8,323.4 1432.3,336.6" fill="#09b4f0" stroke="#0b1a2e" stroke-width="2.6"/><polygon points="1423.0,315.0 1444.5,301.8 1466.0,315.0 1444.5,328.2" fill="#09b4f0" stroke="#0b1a2e" stroke-width="2.6"/><polygon points="1435.3,306.5 1456.8,293.3 1478.3,306.5 1456.8,319.7" fill="#09b4f0" stroke="#0b1a2e" stroke-width="2.6"/><polygon points="1447.2,297.7 1468.7,284.5 1490.2,297.7 1468.7,310.9" fill="#09b4f0" stroke="#0b1a2e" stroke-width="2.6"/><polygon points="1459.1,288.8 1480.6,275.6 1502.1,288.8 1480.6,302.0" fill="#09b4f0" stroke="#0b1a2e" stroke-width="2.6"/><polygon points="1471.0,279.9 1492.5,266.7 1514.0,279.9 1492.5,293.1" fill="#09b4f0" stroke="#0b1a2e" stroke-width="2.6"/><polygon points="1482.9,271.0 1504.4,257.8 1525.9,271.0 1504.4,284.2" fill="#09b4f0" stroke="#0b1a2e" stroke-width="2.6"/><polygon points="1494.9,262.2 1516.4,249.0 1537.9,262.2 1516.4,275.4" fill="#09b4f0" stroke="#0b1a2e" stroke-width="2.6"/><polygon points="1506.8,253.3 1528.3,240.1 1549.8,253.3 1528.3,266.5" fill="#09b4f0" stroke="#0b1a2e" stroke-width="2.6"/><polygon points="1518.7,244.4 1540.2,231.2 1561.7,244.4 1540.2,257.6" fill="#09b4f0" stroke="#0b1a2e" stroke-width="2.6"/><polygon points="1538.4,213.7 1559.9,200.5 1581.4,213.7 1559.9,226.9" fill="#09b4f0" stroke="#0b1a2e" stroke-width="2.6"/><polygon points="1564.8,193.3 1586.3,180.1 1607.8,193.3 1586.3,206.5" fill="#09b4f0" stroke="#0b1a2e" stroke-width="2.6"/></g><path d="M663.1,906.5 L782.5,902.2 L836.6,843.2 L874.0,827.4 L910.9,808.9 L1030.5,756.1 L1085.2,739.4 L1122.3,726.0 L1161.5,709.8 L1205.0,689.2 L1234.5,672.6 L1257.5,661.1 L1275.4,652.1 L1290.8,644.5 L1303.6,636.8 L1315.1,631.7 L1329.1,622.7 L1349.6,613.7 L1367.5,604.8 L1384.2,594.5 L1399.5,584.3 L1415.0,576.0 L1431.2,569.0 L1449.1,560.0 L1463.2,551.0 L1474.7,543.2 L1485.6,534.9 L1508.0,518.9 L1528.4,508.6 L1545.0,497.1 L1559.1,488.2 L1571.9,480.5 L1583.5,471.5 L1604.0,460.0 L1635.8,436.8 L1658.0,418.3 L1681.0,401.6 L1702.3,382.2 L1732.8,356.4 L1759.6,337.0" fill="none" stroke="#151515" stroke-width="2.8" stroke-linejoin="round"/><g><ellipse cx="588.4" cy="914.3" rx="20.5" ry="12.6" fill="#ffff00" stroke="#1a1a00" stroke-width="2.6"/><ellipse cx="663.1" cy="906.5" rx="20.5" ry="12.6" fill="#ffff00" stroke="#1a1a00" stroke-width="2.6"/><ellipse cx="782.5" cy="902.2" rx="20.5" ry="12.6" fill="#ffff00" stroke="#1a1a00" stroke-width="2.6"/><ellipse cx="836.6" cy="843.2" rx="20.5" ry="12.6" fill="#ffff00" stroke="#1a1a00" stroke-width="2.6"/><ellipse cx="874.0" cy="827.4" rx="20.5" ry="12.6" fill="#ffff00" stroke="#1a1a00" stroke-width="2.6"/><ellipse cx="910.9" cy="808.9" rx="20.5" ry="12.6" fill="#ffff00" stroke="#1a1a00" stroke-width="2.6"/><ellipse cx="1030.5" cy="756.1" rx="20.5" ry="12.6" fill="#ffff00" stroke="#1a1a00" stroke-width="2.6"/><ellipse cx="1085.2" cy="739.4" rx="20.5" ry="12.6" fill="#ffff00" stroke="#1a1a00" stroke-width="2.6"/><ellipse cx="1122.3" cy="726.0" rx="20.5" ry="12.6" fill="#ffff00" stroke="#1a1a00" stroke-width="2.6"/><ellipse cx="1161.5" cy="709.8" rx="20.5" ry="12.6" fill="#ffff00" stroke="#1a1a00" stroke-width="2.6"/><ellipse cx="1205.0" cy="689.2" rx="20.5" ry="12.6" fill="#ffff00" stroke="#1a1a00" stroke-width="2.6"/><ellipse cx="1234.5" cy="672.6" rx="20.5" ry="12.6" fill="#ffff00" stroke="#1a1a00" stroke-width="2.6"/><ellipse cx="1257.5" cy="661.1" rx="20.5" ry="12.6" fill="#ffff00" stroke="#1a1a00" stroke-width="2.6"/><ellipse cx="1275.4" cy="652.1" rx="20.5" ry="12.6" fill="#ffff00" stroke="#1a1a00" stroke-width="2.6"/><ellipse cx="1290.8" cy="644.5" rx="20.5" ry="12.6" fill="#ffff00" stroke="#1a1a00" stroke-width="2.6"/><ellipse cx="1303.6" cy="636.8" rx="20.5" ry="12.6" fill="#ffff00" stroke="#1a1a00" stroke-width="2.6"/><ellipse cx="1315.1" cy="631.7" rx="20.5" ry="12.6" fill="#ffff00" stroke="#1a1a00" stroke-width="2.6"/><ellipse cx="1329.1" cy="622.7" rx="20.5" ry="12.6" fill="#ffff00" stroke="#1a1a00" stroke-width="2.6"/><ellipse cx="1349.6" cy="613.7" rx="20.5" ry="12.6" fill="#ffff00" stroke="#1a1a00" stroke-width="2.6"/><ellipse cx="1367.5" cy="604.8" rx="20.5" ry="12.6" fill="#ffff00" stroke="#1a1a00" stroke-width="2.6"/><ellipse cx="1384.2" cy="594.5" rx="20.5" ry="12.6" fill="#ffff00" stroke="#1a1a00" stroke-width="2.6"/><ellipse cx="1399.5" cy="584.3" rx="20.5" ry="12.6" fill="#ffff00" stroke="#1a1a00" stroke-width="2.6"/><ellipse cx="1415.0" cy="576.0" rx="20.5" ry="12.6" fill="#ffff00" stroke="#1a1a00" stroke-width="2.6"/><ellipse cx="1431.2" cy="569.0" rx="20.5" ry="12.6" fill="#ffff00" stroke="#1a1a00" stroke-width="2.6"/><ellipse cx="1449.1" cy="560.0" rx="20.5" ry="12.6" fill="#ffff00" stroke="#1a1a00" stroke-width="2.6"/><ellipse cx="1463.2" cy="551.0" rx="20.5" ry="12.6" fill="#ffff00" stroke="#1a1a00" stroke-width="2.6"/><ellipse cx="1474.7" cy="543.2" rx="20.5" ry="12.6" fill="#ffff00" stroke="#1a1a00" stroke-width="2.6"/><ellipse cx="1485.6" cy="534.9" rx="20.5" ry="12.6" fill="#ffff00" stroke="#1a1a00" stroke-width="2.6"/><ellipse cx="1508.0" cy="518.9" rx="20.5" ry="12.6" fill="#ffff00" stroke="#1a1a00" stroke-width="2.6"/><ellipse cx="1528.4" cy="508.6" rx="20.5" ry="12.6" fill="#ffff00" stroke="#1a1a00" stroke-width="2.6"/><ellipse cx="1545.0" cy="497.1" rx="20.5" ry="12.6" fill="#ffff00" stroke="#1a1a00" stroke-width="2.6"/><ellipse cx="1559.1" cy="488.2" rx="20.5" ry="12.6" fill="#ffff00" stroke="#1a1a00" stroke-width="2.6"/><ellipse cx="1571.9" cy="480.5" rx="20.5" ry="12.6" fill="#ffff00" stroke="#1a1a00" stroke-width="2.6"/><ellipse cx="1583.5" cy="471.5" rx="20.5" ry="12.6" fill="#ffff00" stroke="#1a1a00" stroke-width="2.6"/><ellipse cx="1604.0" cy="460.0" rx="20.5" ry="12.6" fill="#ffff00" stroke="#1a1a00" stroke-width="2.6"/><ellipse cx="1635.8" cy="436.8" rx="20.5" ry="12.6" fill="#ffff00" stroke="#1a1a00" stroke-width="2.6"/><ellipse cx="1658.0" cy="418.3" rx="20.5" ry="12.6" fill="#ffff00" stroke="#1a1a00" stroke-width="2.6"/><ellipse cx="1681.0" cy="401.6" rx="20.5" ry="12.6" fill="#ffff00" stroke="#1a1a00" stroke-width="2.6"/><ellipse cx="1702.3" cy="382.2" rx="20.5" ry="12.6" fill="#ffff00" stroke="#1a1a00" stroke-width="2.6"/><ellipse cx="1732.8" cy="356.4" rx="20.5" ry="12.6" fill="#ffff00" stroke="#1a1a00" stroke-width="2.6"/><ellipse cx="1759.6" cy="337.0" rx="20.5" ry="12.6" fill="#ffff00" stroke="#1a1a00" stroke-width="2.6"/></g><text x="702" y="157.5" class="lg" font-size="35" textLength="285" lengthAdjust="spacingAndGlyphs">Fine crystal %</text><text x="793.6" y="206.2" class="lg" font-size="34.5" textLength="49.5" lengthAdjust="spacingAndGlyphs">00</text><text x="793.6" y="254.8" class="lg" font-size="34.5" textLength="49.5" lengthAdjust="spacingAndGlyphs">05</text><text x="793.6" y="303.5" class="lg" font-size="34.5" textLength="49.5" lengthAdjust="spacingAndGlyphs">10</text><text x="793.6" y="352.1" class="lg" font-size="34.5" textLength="49.5" lengthAdjust="spacingAndGlyphs">30</text><text x="793.6" y="400.7" class="lg" font-size="34.5" textLength="49.5" lengthAdjust="spacingAndGlyphs">50</text><text x="793.6" y="449.4" class="lg" font-size="34.5" textLength="49.5" lengthAdjust="spacingAndGlyphs">75</text><text x="793.6" y="498.0" class="lg" font-size="34.5" textLength="75" lengthAdjust="spacingAndGlyphs">100</text><path d="M652,205.5 H758" stroke="#2a2a2a" stroke-width="3" fill="none"/><polygon points="688.0,205.5 705.0,192.6 722.0,205.5 705.0,218.4" fill="#604a7b" stroke="#16121f" stroke-width="2.6" stroke-linejoin="miter"/><path d="M652,252.9 H758" stroke="#2a2a2a" stroke-width="3" fill="none"/><rect x="686.5" y="241.8" width="37.0" height="22.1" fill="#00b050" stroke="#8ef2bd" stroke-width="2.2"/><path d="M652,300.2 H758" stroke="#2a2a2a" stroke-width="3" fill="none"/><rect x="685.2" y="289.0" width="39.6" height="22.4" fill="#d40000" stroke="#2a0000" stroke-width="2.6"/><path d="M652,347.6 H758" stroke="#2a2a2a" stroke-width="3" fill="none"/><polygon points="705.0,335.7 723.5,358.6 686.5,358.6" fill="#ff0000" stroke="#1a0000" stroke-width="2.4" stroke-linejoin="miter"/><path d="M652,395.0 H758" stroke="#2a2a2a" stroke-width="3" fill="none"/><ellipse cx="705.0" cy="395.0" rx="19.7" ry="11.2" fill="#7331a6" stroke="#1a0c2c" stroke-width="2.6"/><path d="M652,442.4 H758" stroke="#2a2a2a" stroke-width="3" fill="none"/><polygon points="687.6,442.4 705.0,429.4 722.4,442.4 705.0,455.3" fill="#09b4f0" stroke="#0b1a2e" stroke-width="2.6"/><path d="M652,489.7 H758" stroke="#2a2a2a" stroke-width="3" fill="none"/><ellipse cx="705.0" cy="489.7" rx="19.7" ry="11.2" fill="#ffff00" stroke="#1a1a00" stroke-width="2.6"/><path d="M646,511.5 H767" stroke="#4f81bd" stroke-width="3.5" fill="none"/>
</svg>
</body></html>
